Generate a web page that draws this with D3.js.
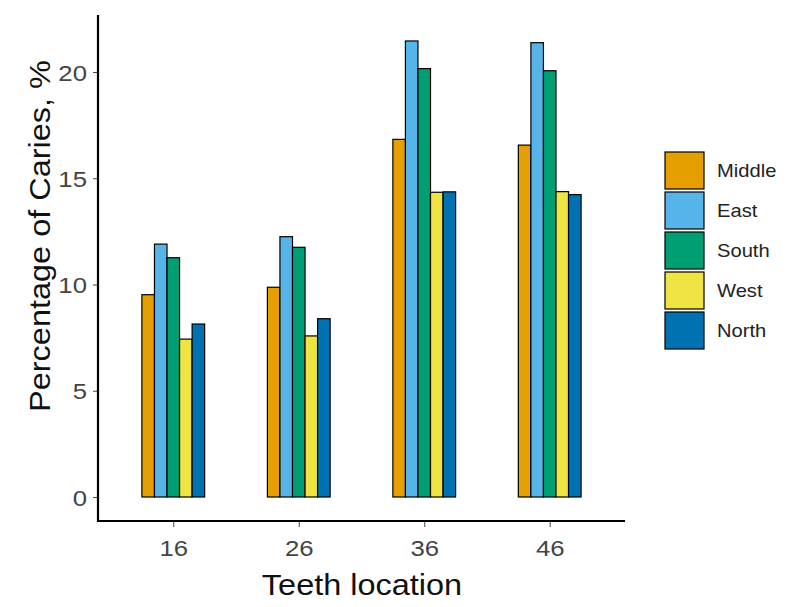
<!DOCTYPE html>
<html><head><meta charset="utf-8">
<script src="https://cdn.jsdelivr.net/npm/d3@7"></script>
<style>body{margin:0;background:#fff;} svg{display:block;}</style>
</head><body>
<svg id="c" width="800" height="607"></svg>
<script>
const categories = ["16","26","36","46"];
const seriesNames = ["Middle","East","South","West","North"];
const seriesColors = ["#E69F00","#56B4E9","#009E73","#F0E442","#0072B2"];
const middle = [9.52, 9.87, 16.83, 16.56];
const east   = [11.9, 12.25, 21.46, 21.38];
const south  = [11.26, 11.75, 20.16, 20.06];
const west   = [7.43, 7.58, 14.34, 14.37];
const north  = [8.14, 8.39, 14.36, 14.23];
const yTicks = [0,5,10,15,20];
const seriesValues = [middle, east, south, west, north];

const svg = d3.select("#c");
const L = 98, R = 625, T = 15, B = 521;
const font = "Arial, 'Liberation Sans', sans-serif";
const SX = 1.12; // horizontal stretch of the reference's text

const y = d3.scaleLinear().domain([0, 20]).range([497, 72]);
const xPos = d3.scaleLinear().domain([0.4, 4.6]).range([L, R]);
const dodge = 0.5;
const bw = dodge / seriesNames.length;

const data = [];
categories.forEach((c, i) => {
  seriesNames.forEach((s, j) => {
    data.push({cat: c, ci: i, s, j, v: seriesValues[j][i]});
  });
});

svg.append("g").selectAll("rect").data(data).enter().append("rect")
  .attr("x", d => xPos(d.ci + 1 - dodge/2 + d.j*bw))
  .attr("width", d => xPos(d.ci + 1 - dodge/2 + (d.j+1)*bw) - xPos(d.ci + 1 - dodge/2 + d.j*bw))
  .attr("y", d => y(d.v))
  .attr("height", d => y(0) - y(d.v))
  .attr("fill", d => seriesColors[d.j])
  .attr("stroke", "#000").attr("stroke-width", 1.2);

// y axis
const yAxis = d3.axisLeft(y).tickValues(yTicks).tickSize(5).tickPadding(6);
const gy = svg.append("g").attr("transform", `translate(${L},0)`).call(yAxis);
gy.select(".domain").remove();
gy.selectAll(".tick line").attr("stroke", "#444").attr("stroke-width", 1);
gy.selectAll(".tick text").attr("font-family", font).attr("font-size", 23).attr("fill", "#444")
  .attr("x", 0).attr("dy", "0.35em")
  .attr("transform", `translate(-11,0) scale(${SX},1)`);

// x axis
const xAxis = d3.axisBottom(d3.scaleLinear().domain([0.4,4.6]).range([L,R]))
  .tickValues([1,2,3,4]).tickFormat((d,i) => categories[i]).tickSize(6);
const gx = svg.append("g").attr("transform", `translate(0,${B})`).call(xAxis);
gx.select(".domain").remove();
gx.selectAll(".tick line").attr("stroke", "#444").attr("stroke-width", 1);
gx.selectAll(".tick text").attr("font-family", font).attr("font-size", 23).attr("fill", "#444")
  .attr("y", 0).attr("dy", 0)
  .attr("transform", `translate(0,35) scale(${SX},1)`);

// axis lines
svg.append("path").attr("d", `M${L},${T}V${B}H${R}`).attr("fill", "none")
  .attr("stroke", "#000").attr("stroke-width", 2.2);

// titles
svg.append("text").attr("transform", `translate(362,595) scale(${SX},1)`).attr("text-anchor", "middle")
  .attr("font-family", font).attr("font-size", 29).attr("fill", "#111").text("Teeth location");
svg.append("text").attr("transform", `translate(50,236) rotate(-90) scale(${SX},1)`).attr("text-anchor", "middle")
  .attr("font-family", font).attr("font-size", 29).attr("fill", "#111").text("Percentage of Caries, %");

// legend
const lg = svg.append("g").attr("transform", "translate(665,152)");
seriesNames.forEach((s, j) => {
  lg.append("rect").attr("x", 0).attr("y", j*40).attr("width", 39).attr("height", 37)
    .attr("fill", seriesColors[j]).attr("stroke", "#000").attr("stroke-width", 1.2);
  lg.append("text").attr("transform", `translate(52,${j*40 + 25}) scale(${SX},1)`).attr("font-family", font)
    .attr("font-size", 18).attr("fill", "#222").text(s);
});
</script>
</body></html>
